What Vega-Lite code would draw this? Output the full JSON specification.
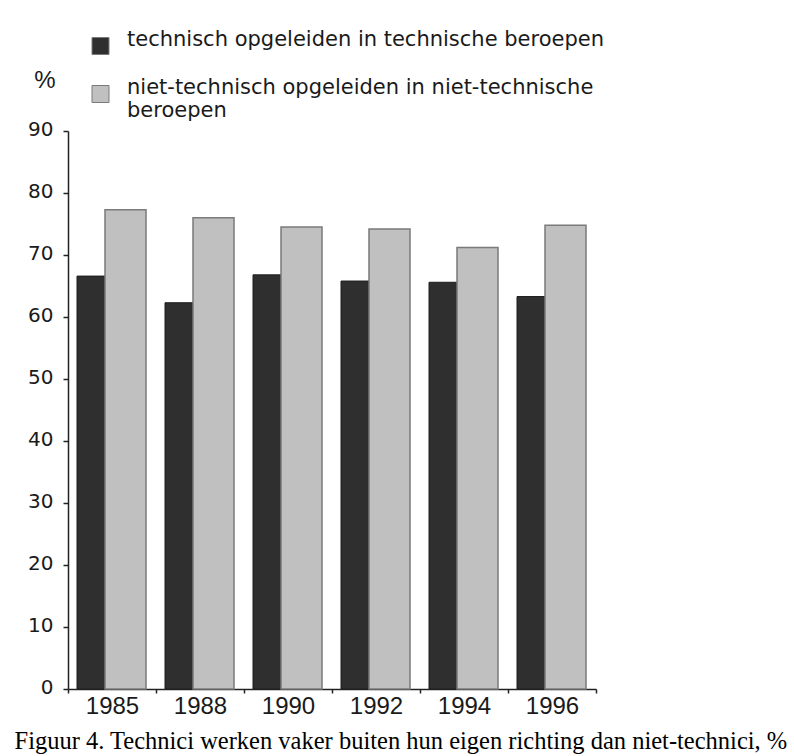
{
  "$schema": "https://vega.github.io/schema/vega-lite/v6.json",
  "width": 528,
  "height": 558,
  "autosize": "none",
  "padding": {"left": 68, "top": 131, "right": 198, "bottom": 67},
  "background": "white",
  "config": {"view": {"stroke": null}},
  "data": {
    "values": [
      {"jaar": "1985", "serie": "technisch opgeleiden in technische beroepen", "waarde": 66.6},
      {"jaar": "1985", "serie": "niet-technisch opgeleiden in niet-technische beroepen", "waarde": 77.3},
      {"jaar": "1988", "serie": "technisch opgeleiden in technische beroepen", "waarde": 62.3},
      {"jaar": "1988", "serie": "niet-technisch opgeleiden in niet-technische beroepen", "waarde": 76.0},
      {"jaar": "1990", "serie": "technisch opgeleiden in technische beroepen", "waarde": 66.8},
      {"jaar": "1990", "serie": "niet-technisch opgeleiden in niet-technische beroepen", "waarde": 74.5},
      {"jaar": "1992", "serie": "technisch opgeleiden in technische beroepen", "waarde": 65.8},
      {"jaar": "1992", "serie": "niet-technisch opgeleiden in niet-technische beroepen", "waarde": 74.2},
      {"jaar": "1994", "serie": "technisch opgeleiden in technische beroepen", "waarde": 65.6},
      {"jaar": "1994", "serie": "niet-technisch opgeleiden in niet-technische beroepen", "waarde": 71.2},
      {"jaar": "1996", "serie": "technisch opgeleiden in technische beroepen", "waarde": 63.3},
      {"jaar": "1996", "serie": "niet-technisch opgeleiden in niet-technische beroepen", "waarde": 74.8}
    ]
  },
  "encoding": {
    "x": {
      "field": "jaar", "type": "nominal", "sort": null,
      "scale": {"paddingInner": 0, "paddingOuter": 0},
      "axis": {
        "title": "Figuur 4. Technici werken vaker buiten hun eigen richting dan niet-technici, %",
        "titleFont": "Liberation Serif", "titleFontSize": 24.5, "titleFontWeight": "normal",
        "titleColor": "#000", "titleAlign": "left", "titleBaseline": "alphabetic",
        "titleX": -54, "titleY": 59, "titleAnchor": null,
        "labelAngle": 0, "labelFont": "Liberation Sans", "labelFontSize": 24, "labelColor": "#1a1a1a",
        "labelPadding": 1, "tickSize": 4, "tickColor": "#222", "tickBand": "extent",
        "domainColor": "#222", "domainWidth": 1.5, "tickWidth": 1.5
      }
    },
    "y": {
      "field": "waarde", "type": "quantitative",
      "scale": {"domain": [0, 90], "nice": false},
      "axis": {
        "values": [0, 10, 20, 30, 40, 50, 60, 70, 80, 90],
        "title": "%", "titleAngle": 0, "titleFont": "Liberation Sans", "titleFontSize": 24,
        "titleFontWeight": "normal", "titleColor": "#1a1a1a", "titleAlign": "center", "titleBaseline": "middle",
        "titleX": -23.5, "titleY": -51,
        "labelFont": "DejaVu Sans", "labelFontSize": 20, "labelColor": "#1a1a1a",
        "labelPadding": 10, "labelOffset": -2, "tickSize": 5, "tickColor": "#222", "tickWidth": 1.5,
        "domainColor": "#222", "domainWidth": 1.5, "grid": false
      }
    }
  },
  "layer": [
    {
      "transform": [{"filter": "datum.serie == 'technisch opgeleiden in technische beroepen'"}],
      "mark": {"type": "bar", "width": 28, "xOffset": -21, "stroke": "#1e1e1e", "strokeWidth": 1},
      "encoding": {
        "color": {
          "field": "serie", "type": "nominal",
          "scale": {
            "domain": ["technisch opgeleiden in technische beroepen", "niet-technisch opgeleiden in niet-technische beroepen"],
            "range": ["#2f2f2f", "#c0c0c0"]
          },
          "legend": {
            "title": null, "orient": "none", "legendX": 22, "legendY": -95.5, "direction": "vertical",
            "padding": 0, "rowPadding": 20, "symbolType": "square", "symbolSize": 289,
            "symbolStrokeColor": "#555", "symbolStrokeWidth": 1, "symbolOpacity": 1,
            "labelFont": "DejaVu Sans", "labelFontSize": 21, "labelLineHeight": 19, "labelColor": "#1a1a1a",
            "labelOffset": 16, "labelLimit": 1000, "labelBaseline": "alphabetic",
            "labelExpr": "datum.label == 'niet-technisch opgeleiden in niet-technische beroepen' ? ['niet-technisch opgeleiden in niet-technische', 'beroepen'] : datum.label"
          }
        }
      }
    },
    {
      "transform": [{"filter": "datum.serie == 'niet-technisch opgeleiden in niet-technische beroepen'"}],
      "mark": {"type": "bar", "width": 41, "xOffset": 13.5, "stroke": "#7a7a7a", "strokeWidth": 1.5},
      "encoding": {
        "color": {"field": "serie", "type": "nominal"}
      }
    }
  ]
}
